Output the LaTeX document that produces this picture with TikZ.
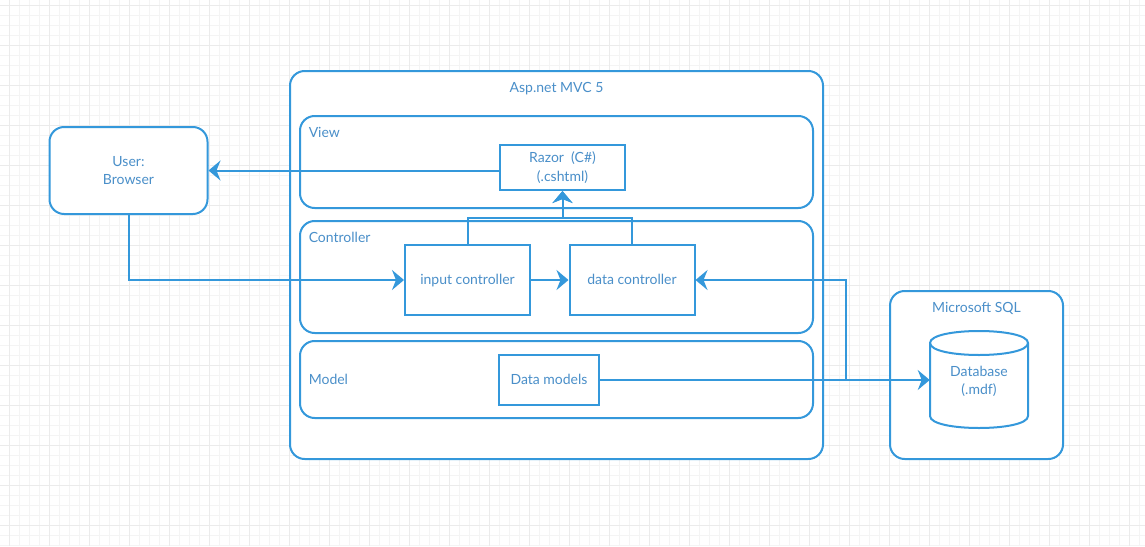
\documentclass[tikz,border=0pt]{standalone}
\usepackage{fontspec}
\setmainfont{Lato}
\usetikzlibrary{arrows.meta,calc}
\definecolor{lineblue}{HTML}{3498DB}
\definecolor{textblue}{HTML}{4A8FC9}
\definecolor{gridminor}{HTML}{F4F4F4}
\definecolor{gridmajor}{HTML}{EBEBEB}
\begin{document}
\begin{tikzpicture}[x=0.75pt,y=-0.75pt,
  every node/.style={font=\fontsize{10.5}{14}\selectfont, text=textblue},
  container/.style={draw=lineblue, line width=1.5pt, rounded corners=11pt, fill=white, inner sep=0pt},
  plainbox/.style={draw=lineblue, line width=1.5pt, fill=white, align=center, inner sep=0pt},
  oneline/.style={text height=0.72em, text depth=0pt},
  lbl/.style={inner sep=0pt, align=center},
  conn/.style={draw=lineblue, line width=1.5pt},
  arr/.style={conn, -{Stealth[length=9pt, width=15pt, inset=3pt]}}]
\useasboundingbox (0,0) rectangle (1145,546);
\fill[white] (0,0) rectangle (1145,546);
% grid
\foreach \x in {9.5,19.5,...,1140} \draw[gridminor, line width=0.75pt] (\x,0) -- (\x,546);
\foreach \y in {5,15,...,546} \draw[gridminor, line width=0.75pt] (0,\y) -- (1145,\y);
\foreach \x in {9.5,49.5,...,1140} \draw[gridmajor, line width=0.75pt] (\x,0) -- (\x,546);
\foreach \y in {5,45,...,546} \draw[gridmajor, line width=0.75pt] (0,\y) -- (1145,\y);

% containers
\node[container, minimum width=399.75pt, minimum height=291pt] (mvc) at (556.5,265) {};
\node[lbl, oneline] (mvctitle) at (556.5,88) {Asp.net MVC 5};
\node[container, minimum width=384.75pt, minimum height=69pt] (view) at (556.5,162) {};
\node[lbl, oneline, anchor=west] (viewlbl) at (308.5,133) {View};
\node[container, minimum width=384.75pt, minimum height=84pt] (ctrl) at (556.5,277) {};
\node[lbl, oneline, anchor=west] (ctrllbl) at (308.5,238) {Controller};
\node[container, minimum width=384.75pt, minimum height=57.75pt] (model) at (556.5,379.5) {};
\node[lbl, oneline, anchor=west] (modellbl) at (308.5,380) {Model};

\node[container, minimum width=118.5pt, minimum height=65.25pt, align=center] (user) at (128.5,170.5) {User:\\Browser};

\node[container, minimum width=129.75pt, minimum height=126pt] (sql) at (976.5,375) {};
\node[lbl, oneline] (sqltitle) at (976.5,308) {Microsoft SQL};

% inner boxes
\node[plainbox, minimum width=93.75pt, minimum height=33.75pt] (razor) at (562.5,167.5) {Razor\ \ (C\#)\\(.cshtml)};
\node[plainbox, oneline, minimum width=93.75pt, minimum height=52.5pt] (inputc) at (467.5,280) {input controller};
\node[plainbox, oneline, minimum width=93.75pt, minimum height=52.5pt] (datac) at (632,280) {data controller};
\node[plainbox, oneline, minimum width=75pt, minimum height=37.5pt] (models) at (549,380) {Data models};

% database cylinder
\draw[lineblue, line width=1.5pt, fill=white]
  (930,343) -- (930,416) .. controls (930,432) and (1028,432) .. (1028,416) -- (1028,343)
  .. controls (1028,327) and (930,327) .. (930,343) -- cycle;
\draw[lineblue, line width=1.5pt]
  (930,343) .. controls (930,359) and (1028,359) .. (1028,343);
\node[lbl, minimum width=73.5pt, minimum height=72pt, inner sep=0pt] (db) at (979,380) {};
\node[lbl] (dbtext) at (979,381.5) {Database\\(.mdf)};

% connectors
\draw[arr] (razor.west |- user.east) -- (user.east);
\draw[arr] (user.south) |- (inputc.west);
\draw[arr] (inputc.east) -- (datac.west);
\draw[arr] (inputc.north) -- ++(0,-26.5) -| (razor.south);
\draw[arr] (datac.north) -- ++(0,-26.5) -| (razor.south);
\draw[arr] (models.east) -- (db.west);
\draw[arr] (models.east) -- ++(246,0) |- (datac.east);
\end{tikzpicture}
\end{document}
